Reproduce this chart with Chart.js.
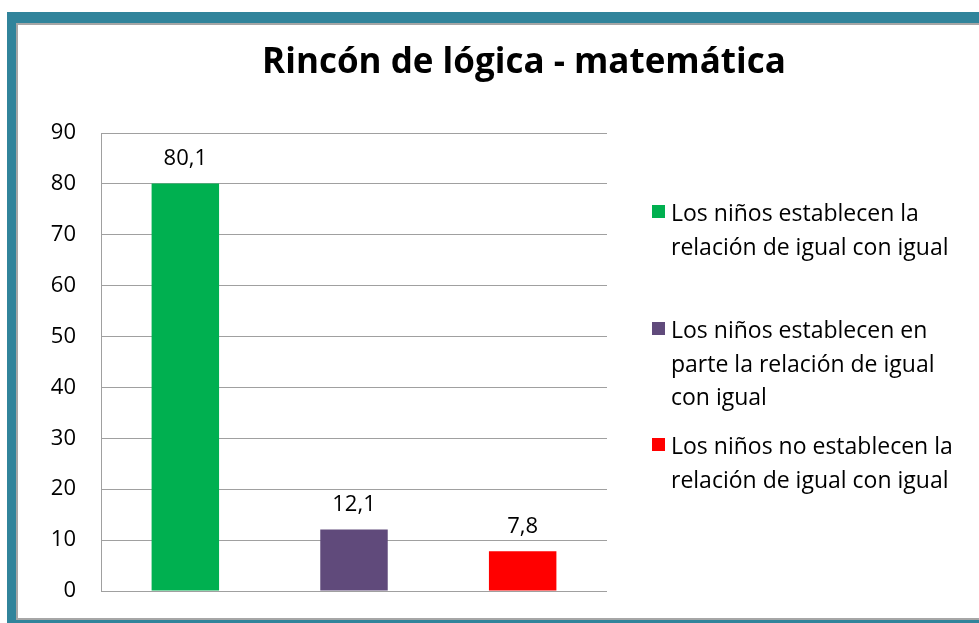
<!DOCTYPE html>
<html>
<head>
<meta charset="utf-8">
<script src="https://cdn.jsdelivr.net/npm/chart.js@4.4.1/dist/chart.umd.min.js"></script>
<style>
  html, body { margin:0; padding:0; width:979px; height:623px; overflow:hidden; background:#fff; }
  #frame { position:absolute; left:7px; top:12px; width:1000px; height:640px; background:#31849b; }
  #inner { position:absolute; left:16px; top:23px; width:1000px; height:597px; background:#fff; border-left:2px solid #a6a6a6; border-top:2px solid #a6a6a6; border-bottom:2px solid #a6a6a6; box-sizing:border-box; }
  #wrap { position:absolute; left:0; top:0; width:979px; height:623px; }
  canvas { display:block; }
</style>
</head>
<body>
<div id="frame"></div>
<div id="inner"></div>
<div id="wrap"><canvas id="c" width="979" height="623"></canvas></div>
<script>
const TITLE = "Rincón de lógica - matemática";
const CATEGORIES = [
  ["Los niños establecen la", "relación de igual con igual"],
  ["Los niños establecen en", "parte la relación de igual", "con igual"],
  ["Los niños no establecen la", "relación de igual con igual"]
];
const VALUES = [80.1, 12.1, 7.8];
const COLORS = ["#00b050", "#604a7b", "#ff0000"];
const Y_MIN = 0, Y_MAX = 90, Y_STEP = 10;

const FONT = "'Open Sans', sans-serif";

const titlePlugin = {
  id: 'customTitle',
  afterDraw(chart, args, opts) {
    const ctx = chart.ctx;
    ctx.save();
    ctx.font = "bold 35px " + FONT;
    ctx.fillStyle = "#000";
    ctx.textAlign = "center";
    ctx.textBaseline = "alphabetic";
    ctx.fillText(opts.text, opts.x, opts.y);
    ctx.restore();
  }
};

const valueLabels = {
  id: 'valueLabels',
  afterDatasetsDraw(chart) {
    const ctx = chart.ctx;
    const meta = chart.getDatasetMeta(0);
    ctx.save();
    ctx.font = "22px " + FONT;
    ctx.fillStyle = "#000";
    ctx.textAlign = "center";
    ctx.textBaseline = "alphabetic";
    meta.data.forEach((bar, i) => {
      const v = chart.data.datasets[0].data[i];
      ctx.fillText(String(v).replace('.', ','), bar.x, bar.y - 18);
    });
    ctx.restore();
  }
};

const sideLegend = {
  id: 'sideLegend',
  afterDraw(chart, args, opts) {
    const ctx = chart.ctx;
    const ds = chart.data.datasets[0];
    ctx.save();
    ctx.font = opts.fontSize + "px " + FONT;
    ctx.textBaseline = "alphabetic";
    ctx.textAlign = "left";
    chart.data.labels.forEach((lines, i) => {
      const y0 = opts.itemY[i];
      ctx.fillStyle = ds.backgroundColor[i];
      ctx.fillRect(opts.boxX, y0 - 16, 13, 13);
      ctx.fillStyle = "#000";
      lines.forEach((ln, j) => ctx.fillText(ln, opts.textX, y0 + j * opts.lineHeight));
    });
    ctx.restore();
  }
};

new Chart(document.getElementById('c'), {
  type: 'bar',
  data: {
    labels: CATEGORIES,
    datasets: [{
      data: VALUES,
      backgroundColor: COLORS,
      borderWidth: 0,
      categoryPercentage: 1.0,
      barPercentage: 0.4
    }]
  },
  options: {
    responsive: false,
    animation: false,
    layout: { padding: { left: 0, top: 133, right: 372, bottom: 32 } },
    plugins: {
      legend: { display: false },
      tooltip: { enabled: false },
      title: { display: false },
      customTitle: { text: TITLE, x: 524, y: 73 },
      sideLegend: { itemY: [221, 338, 454], lineHeight: 33.5, boxX: 652, textX: 671, fontSize: 23 }
    },
    scales: {
      x: { display: false },
      y: {
        min: Y_MIN, max: Y_MAX,
        afterFit(scale) { scale.width = 101; scale.paddingTop = 0; scale.paddingBottom = 0; },
        ticks: { stepSize: Y_STEP, padding: 25, color: "#000", font: { family: FONT, size: 22 } },
        grid: { color: "#a0a0a0", lineWidth: 1, drawTicks: false },
        border: { display: true, color: "#a0a0a0", width: 1 }
      }
    }
  },
  plugins: [titlePlugin, valueLabels, sideLegend]
});
</script>
</body>
</html>
